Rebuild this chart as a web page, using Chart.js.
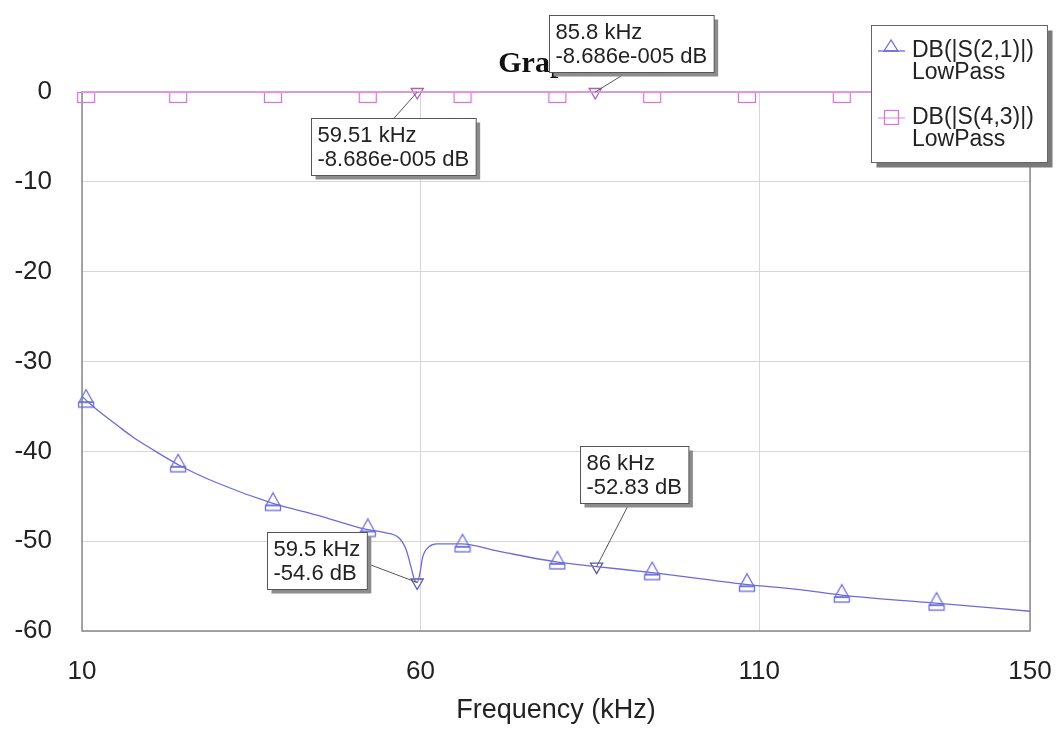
<!DOCTYPE html>
<html>
<head>
<meta charset="utf-8">
<title>Graph 1</title>
<script src="https://cdn.jsdelivr.net/npm/chart.js@4.4.1/dist/chart.umd.min.js"></script>
<style>
body{margin:0;background:#fff}
</style>
</head>
<body>
<canvas id="myChart" width="1057" height="729"></canvas>
<script>
// DB(|S(2,1)|) trace
var s21Freq=[10,10.6,12.6,15.2,17.5,20,24.5,29.9,38.2,44.7,52,54.4,56.9,57.9,58.7,59.1,59.5,59.9,60.3,61.3,62.4,66,72,80,86,94.2,108,116,122.1,136.1,150]
var s21DB=[-33.9,-34.3,-35.6,-37.1,-38.4,-39.6,-41.6,-43.5,-45.8,-47.1,-48.7,-49.0,-49.7,-51.0,-53.2,-54.3,-54.6,-53.6,-51.8,-50.6,-50.3,-50.3,-51.2,-52.3,-52.83,-53.5,-54.8,-55.4,-56.0,-56.9,-57.8]
// DB(|S(4,3)|) trace, flat at 0 dB
var s43Freq=[10,59.51,85.8,150]
var s43DB=[-8.686e-5,-8.686e-5,-8.686e-5,-8.686e-5]
// trace symbols
var markFreq=[10.6,24.2,38.2,52.2,66.2,80.2,94.2,108.2,122.2,136.2]
var s21Mark=[-34.3,-41.5,-45.8,-48.7,-50.4,-52.3,-53.5,-54.8,-56.0,-56.9]
var s43Mark=[0,0,0,0,0,0,0,0,0,0]
// axes
var xTicks=[10,60,110,150]
var yTicks=[0,-10,-20,-30,-40,-50,-60]
var graphTitle="Graph 1"
var xTitle="Frequency (kHz)"
var legendNames=[["DB(|S(2,1)|)","LowPass"],["DB(|S(4,3)|)","LowPass"]]
// marker read-outs
var annFreq=[85.8,59.51,59.5,86]
var annDB=[-8.686e-5,-8.686e-5,-54.6,-52.83]
var annSeries=[1,1,0,0]
var annText=[["85.8 kHz","-8.686e-005 dB"],["59.51 kHz","-8.686e-005 dB"],["59.5 kHz","-54.6 dB"],["86 kHz","-52.83 dB"]]

// box offset from the marker (dx,dy) and leader start (lx,ly), in px
var annBox=[[-46,-77,29,-18],[-106,26,-23,26],[-150,-50,-53,-20],[-17,-121,33,-64]]

var blue='#6b6bdc'
var pink='#ee9aee'
var pinkMark='#d27ad6'
var font="'Liberation Sans', Arial, sans-serif"

function triSymbol(color){
    var c=document.createElement('canvas')
    c.width=18;c.height=24
    var g=c.getContext('2d')
    g.strokeStyle=color;g.lineWidth=1.3
    g.beginPath()
    g.moveTo(9,1.5);g.lineTo(2,14);g.lineTo(16,14);g.closePath()
    g.stroke()
    g.strokeRect(1.5,14,15,5)
    return c
}
function sqSymbol(color){
    var c=document.createElement('canvas')
    c.width=20;c.height=24
    var g=c.getContext('2d')
    g.strokeStyle=color;g.lineWidth=1.3
    g.strokeRect(1.5,12.5,17,10)
    return c
}

function pts(xs,ys){
    var out=[]
    for(var i=0;i<xs.length;i++){out.push({x:xs[i],y:ys[i]})}
    return out
}

var deco={
    id:'deco',
    beforeDatasetsDraw:function(chart){
        var ctx=chart.ctx,a=chart.chartArea
        ctx.save()
        // frame
        ctx.strokeStyle='#8a8a8a';ctx.lineWidth=1.5
        ctx.strokeRect(a.left,a.top,a.right-a.left,a.bottom-a.top)
        // title, partly hidden by a read-out box
        ctx.fillStyle='#111'
        ctx.font="bold 30px 'Liberation Serif', 'Times New Roman', serif"
        ctx.textAlign='center';ctx.textBaseline='alphabetic'
        ctx.fillText(graphTitle,(a.left+a.right)/2-4,72)
        ctx.restore()
    },
    afterDraw:function(chart){
        var ctx=chart.ctx
        var xs=chart.scales.x,ys=chart.scales.y
        ctx.save()
        ctx.font='22px '+font
        ctx.textBaseline='middle';ctx.textAlign='left'
        for(var i=0;i<annFreq.length;i++){
            var mx=xs.getPixelForValue(annFreq[i])
            var my=ys.getPixelForValue(annDB[i])
            var b=annBox[i]
            var w=Math.max(ctx.measureText(annText[i][0]).width,ctx.measureText(annText[i][1]).width)+13
            var h=57
            var bx=Math.round(mx+b[0])+0.5,by=Math.round(my+b[1])+0.5
            // leader
            ctx.strokeStyle='#555';ctx.lineWidth=1
            ctx.beginPath();ctx.moveTo(mx+b[2],my+b[3]);ctx.lineTo(mx,my);ctx.stroke()
            // shadow + box
            ctx.fillStyle='#8c8c8c'
            ctx.fillRect(bx+4,by+4,w,h)
            ctx.fillStyle='#fff'
            ctx.fillRect(bx,by,w,h)
            ctx.strokeStyle='#555'
            ctx.strokeRect(bx,by,w,h)
            ctx.fillStyle='#222'
            ctx.fillText(annText[i][0],bx+6,by+17)
            ctx.fillText(annText[i][1],bx+6,by+41)
        }
        // legend
        var lx=871.5,ly=25.5,lw=176,lh=137
        ctx.fillStyle='#7a7a7a'
        ctx.fillRect(lx+5,ly+5,lw,lh)
        ctx.fillStyle='#fff'
        ctx.fillRect(lx,ly,lw,lh)
        ctx.strokeStyle='#666';ctx.lineWidth=1
        ctx.strokeRect(lx,ly,lw,lh)
        ctx.font='23px '+font
        ctx.fillStyle='#222'
        var rows=[51,118]
        for(var k=0;k<legendNames.length;k++){
            var yy=rows[k]
            ctx.strokeStyle=k==0?blue:pink;ctx.lineWidth=1.3
            ctx.beginPath();ctx.moveTo(878,yy);ctx.lineTo(905,yy);ctx.stroke()
            if(k==0){
                ctx.strokeStyle=blue
                ctx.beginPath();ctx.moveTo(891,yy-11);ctx.lineTo(884,yy);ctx.lineTo(898,yy);ctx.closePath();ctx.stroke()
            }else{
                ctx.strokeStyle=pinkMark
                ctx.strokeRect(884.5,yy-7.5,14,14)
            }
            ctx.fillStyle='#222'
            ctx.fillText(legendNames[k][0],912,yy)
            ctx.fillText(legendNames[k][1],912,yy+22)
        }
        ctx.restore()
    }
}

var myChart=document.getElementById('myChart').getContext('2d')
var chart=new Chart(myChart,{
    type:'line',
    data:{
        datasets:[
            {
                label:legendNames[0][0],
                data:pts(s21Freq,s21DB),
                borderColor:blue,
                borderWidth:1.3,
                pointRadius:0,
                cubicInterpolationMode:'monotone',
                fill:false
            },
            {
                label:legendNames[1][0],
                data:pts(s43Freq,s43DB),
                borderColor:pink,
                borderWidth:1.5,
                pointRadius:0,
                fill:false,
                clip:false
            },
            {
                label:'s21 symbols',
                data:pts(markFreq,s21Mark),
                showLine:false,
                pointStyle:triSymbol(blue),
                pointRadius:9,
                clip:false
            },
            {
                label:'s43 symbols',
                data:pts(markFreq,s43Mark),
                showLine:false,
                pointStyle:sqSymbol(pinkMark),
                pointRadius:9,
                clip:false
            },
            {
                label:'markers',
                data:pts(annFreq,annDB),
                showLine:false,
                pointStyle:'triangle',
                rotation:180,
                pointRadius:7,
                borderWidth:1.3,
                clip:false,
                pointBorderColor:annSeries.map(function(s){return s==0?'#5a5aa8':'#b060b0'}),
                pointBackgroundColor:'rgba(255,255,255,0)'
            }
        ]
    },
    options:{
        responsive:false,
        animation:false,
        layout:{padding:{top:92,right:27,left:0,bottom:0}},
        plugins:{legend:{display:false},tooltip:{enabled:false},title:{display:false}},
        scales:{
            x:{
                type:'linear',min:10,max:150,
                afterBuildTicks:function(s){s.ticks=xTicks.map(function(v){return {value:v}})},
                afterFit:function(s){s.height=98;s.paddingRight=0;s.paddingLeft=0},
                grid:{color:'#d6d6d6',drawTicks:false},
                border:{display:false},
                ticks:{padding:25,color:'#222',font:{family:font,size:26},maxRotation:0},
                title:{display:true,text:xTitle,color:'#222',font:{family:font,size:27},padding:{top:0,bottom:2}}
            },
            y:{
                type:'linear',min:-60,max:0,
                afterBuildTicks:function(s){s.ticks=yTicks.map(function(v){return {value:v}})},
                afterFit:function(s){s.width=82;s.paddingTop=0;s.paddingBottom=0},
                grid:{color:'#d6d6d6',drawTicks:false},
                border:{display:false},
                ticks:{padding:30,color:'#222',font:{family:font,size:26}}
            }
        }
    },
    plugins:[deco]
})
</script>
</body>
</html>
